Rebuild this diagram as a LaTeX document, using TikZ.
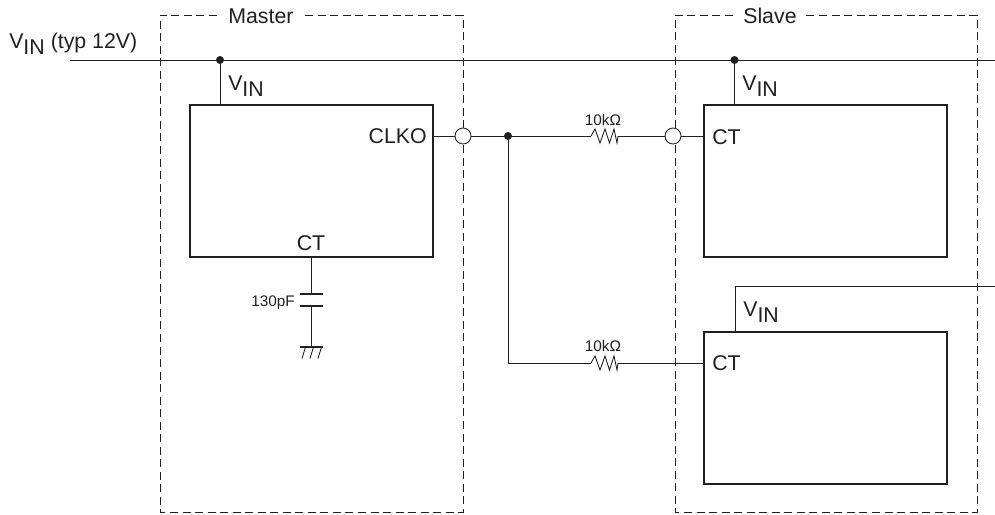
\documentclass[tikz,border=0pt]{standalone}
\usepackage{fontspec}
\setmainfont{Liberation Sans}
\definecolor{ink}{RGB}{35,31,32}
\tikzset{
  x=0.75pt,y=-0.75pt,
  wire/.style={draw=ink,line width=0.65pt},
  chip/.style={draw=ink,line width=1.9pt,fill=white,minimum width=182.25pt,minimum height=114pt,inner sep=0pt,outer sep=0pt,anchor=north west},
  fence/.style={draw=ink,line width=0.6pt,dash pattern=on 6pt off 3.4pt},
  junction/.style={circle,fill=ink,draw=none,minimum size=6pt,inner sep=0pt},
  port/.style={circle,fill=white,draw=ink,line width=0.65pt,minimum size=12pt,inner sep=0pt},
  lbl/.style={text=ink,font=\fontsize{16}{18}\selectfont,inner sep=0pt},
  tiny/.style={text=ink,font=\fontsize{11.5}{13}\selectfont,inner sep=0pt},
}
\newcommand{\vin}{V\raisebox{-4.8pt}{IN}}
\begin{document}
\begin{tikzpicture}
\useasboundingbox (0,0) rectangle (995,514);
% dashed frames
\node[lbl,anchor=base west] (mastertxt) at (228,23.5) {Master};
\node[lbl,anchor=base west] (slavetxt) at (743,23.5) {Slave};
\coordinate (m1) at (217,15); \coordinate (m2) at (160,15); \coordinate (m3) at (160,512);
\coordinate (m4) at (463,512); \coordinate (m5) at (463,15); \coordinate (m6) at (303,15);
\coordinate (s1) at (733,15); \coordinate (s2) at (675,15); \coordinate (s3) at (675,512);
\coordinate (s4) at (977,512); \coordinate (s5) at (977,15); \coordinate (s6) at (803,15);
\draw[fence] (m1) -- (m2) -- (m3) -- (m4) -- (m5) -- (m6);
\draw[fence] (s1) -- (s2) -- (s3) -- (s4) -- (s5) -- (s6);
% rails
\coordinate (railL) at (70,60); \coordinate (railR) at (995,60);
\coordinate (rail2R) at (995,286); \coordinate (rail2L) at (735,286);
\node[lbl,anchor=base west] (vintxt) at (9,48) {\vin\ (typ 12V)};
% chips
\node[chip] (master) at (190,105) {};
\node[chip] (slaveA) at (704,105) {};
\node[chip] (slaveB) at (704,332) {};
\node[lbl,anchor=base east] (clko) at (427,143.5) {CLKO};
\node[lbl,anchor=base] (ctm) at (311,250) {CT};
\node[lbl,anchor=base west] (cta) at (712,144) {CT};
\node[lbl,anchor=base west] (ctb) at (712,370) {CT};
\node[lbl,anchor=base west] (vinm) at (228,90) {\vin};
\node[lbl,anchor=base west] (vina) at (742,90) {\vin};
\node[lbl,anchor=base west] (vinb) at (743,316) {\vin};
% junctions and ports
\node[junction] (j1) at (220,60) {};
\node[junction] (j2) at (734.5,60) {};
\node[junction] (j3) at (508,136) {};
% connectors
\draw[wire] (railL) -- (railR);
\draw[wire] (j1) -- (j1 |- master.north);
\draw[wire] (j2) -- (j2 |- slaveA.north);
\draw[wire] (rail2R) -- (rail2L) -- (rail2L |- slaveB.north);
\coordinate (ra) at (591,136); \coordinate (rb) at (618,136);
\coordinate (rc) at (591,363); \coordinate (rd) at (618,363);
\coordinate (clkopin) at (master.north east |- ra);
\coordinate (ctapin) at (slaveA.north west |- ra);
\coordinate (ctbpin) at (slaveB.north west |- rc);
\draw[wire] (clkopin) -- (ra);
\draw[wire] (rb) -- (ctapin);
\draw[wire] (j3) |- (rc);
\draw[wire] (rd) -- (ctbpin);
\foreach \a/\b in {ra/rb,rc/rd}{
  \draw[wire,line join=miter] (\a) -- ++(4,-7) -- ++(5,14) -- ++(5,-14) -- ++(4.5,14) -- ++(4.5,-14) -- ++(3,14) -- (\b);
}
\node[port] (p1) at (463,136) {};
\node[port] (p2) at (673,136) {};
\node[tiny,anchor=base] (r1) at (603,125) {10kΩ};
\node[tiny,anchor=base] (r2) at (603,351) {10kΩ};
% capacitor and ground
\coordinate (capT) at (311,294); \coordinate (capB) at (311,306); \coordinate (gnd) at (311,347);
\draw[wire] (capT |- master.south) -- (capT);
\draw[wire] (capB) -- (gnd);
\draw[draw=ink,line width=1.7pt] (300,294) -- (323,294) (300,306) -- (323,306);
\node[tiny,anchor=base east] (cap) at (295,306) {130pF};
\draw[wire,line width=1.1pt] (300,347) -- (323,347);
\foreach \x in {302,310,318}{\draw[wire] (\x+3.5,347) -- (\x,358.5);}
\end{tikzpicture}
\end{document}
